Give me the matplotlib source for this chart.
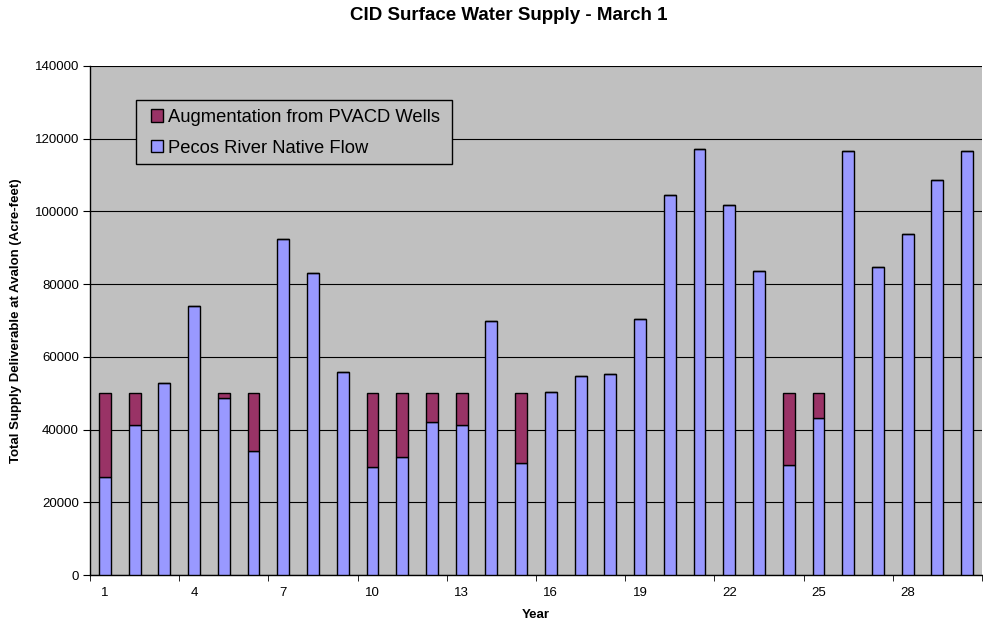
import matplotlib
matplotlib.use("Agg")
import matplotlib.pyplot as plt
from matplotlib.patches import Rectangle
import numpy as np

years = list(range(1, 31))
native_flow = [27000, 41300, 52700, 74000, 48700, 34100, 92300, 83200, 55800, 29700,
               32400, 42000, 41300, 70000, 30800, 50400, 54800, 55200, 70400, 104600,
               117100, 101900, 83600, 30200, 43300, 116500, 84600, 93700, 108700, 116500]
augmentation = [23000, 8700, 0, 0, 1300, 15900, 0, 0, 0, 20300,
                17600, 8000, 8700, 0, 19200, 0, 0, 0, 0, 0,
                0, 0, 0, 19800, 6700, 0, 0, 0, 0, 0]
xtick_labels = [1, 4, 7, 10, 13, 16, 19, 22, 25, 28]
yticks = [0, 20000, 40000, 60000, 80000, 100000, 120000, 140000]

plt.rcParams['font.family'] = ['Liberation Sans', 'DejaVu Sans']

W, H = 983, 625
fig = plt.figure(figsize=(W/100, H/100), dpi=100)
L, R, T, B = 90, 982, 66, 575
ax = fig.add_axes([L/W, 1-B/H, (R-L)/W, (B-T)/H])
ax.set_facecolor('#C0C0C0')

def ax_x(px):
    return (px - L) / (R - L)

def ax_y(py):
    return (B - py) / (B - T)

x = np.array(years)
w = 0.4
ax.bar(x, native_flow, width=w, color='#9999FF', edgecolor='black', linewidth=1.0,
       label='Pecos River Native Flow', zorder=3)
ax.bar(x, augmentation, width=w, bottom=native_flow, color='#993366', edgecolor='black',
       linewidth=1.0, label='Augmentation from PVACD Wells', zorder=3)

ax.set_xlim(0.5, 30.5)
ax.set_ylim(0, 140000)
ax.set_yticks(yticks)
ax.set_yticklabels([str(v) for v in yticks], fontsize=9.5)
ax.yaxis.grid(True, color='black', linewidth=0.8, zorder=1)
ax.set_axisbelow(True)

ax.set_xticks(xtick_labels)
ax.set_xticklabels([str(v) for v in xtick_labels], fontsize=9.5)
ax.tick_params(axis='x', which='major', length=0, pad=9)
ax.set_xticks(np.arange(0.5, 31, 3), minor=True)
ax.tick_params(axis='x', which='minor', length=4, direction='out', color='black')
ax.tick_params(axis='y', length=5, direction='out', color='black', pad=3)

for s in ['top', 'right']:
    ax.spines[s].set_visible(False)
for s in ['left', 'bottom']:
    ax.spines[s].set_color('black')
    ax.spines[s].set_linewidth(1.0)

ax.set_xlabel('Year', fontsize=9.5, fontweight='bold', labelpad=7)
ax.set_ylabel('Total Supply Deliverable at Avalon (Acre-feet)', fontsize=9.5,
              fontweight='bold', labelpad=9)
fig.suptitle('CID Surface Water Supply - March 1', fontsize=13.5, fontweight='bold',
             x=509/W, y=1-15/H, va='center')

# legend box
box = Rectangle((ax_x(136), ax_y(164)), ax_x(452) - ax_x(136), ax_y(100) - ax_y(164),
                transform=ax.transAxes, facecolor='#C0C0C0', edgecolor='black',
                linewidth=1.0, zorder=4)
ax.add_patch(box)

handles, labels = ax.get_legend_handles_labels()
leg = ax.legend(handles[::-1], labels[::-1], loc='center left',
                bbox_to_anchor=(ax_x(150.5), ax_y(132.7)), fontsize=13.2,
                frameon=False, handlelength=0.68, handleheight=0.68, handletextpad=0.25,
                borderpad=0, labelspacing=0.75, borderaxespad=0)
leg.set_zorder(5)

fig.savefig('out.png', dpi=100)
